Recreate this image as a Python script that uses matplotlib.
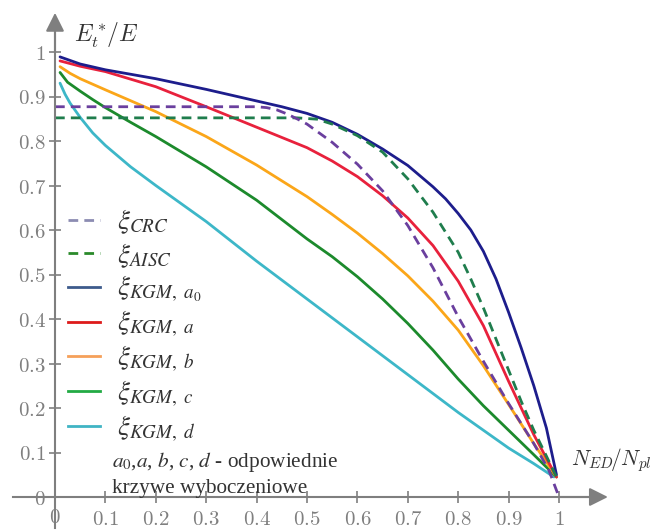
import matplotlib
matplotlib.use("Agg")
import matplotlib.pyplot as plt
from matplotlib.lines import Line2D

# ---- data ----
x_crc = [0.0, 0.1, 0.2, 0.3, 0.4, 0.42, 0.44, 0.46, 0.48, 0.5, 0.55, 0.6, 0.65, 0.7, 0.75, 0.8, 0.85, 0.9, 0.95, 0.98, 1.0]
y_crc = [0.877, 0.877, 0.877, 0.877, 0.877, 0.875, 0.87, 0.861, 0.85, 0.838, 0.797, 0.748, 0.688, 0.61, 0.515, 0.405, 0.305, 0.21, 0.12, 0.06, 0.0]

x_aisc = [0.0, 0.1, 0.2, 0.3, 0.4, 0.48, 0.52, 0.55, 0.6, 0.65, 0.7, 0.75, 0.8, 0.825, 0.85, 0.875, 0.9, 0.925, 0.95, 0.975, 0.995]
y_aisc = [0.852, 0.852, 0.852, 0.852, 0.852, 0.852, 0.849, 0.838, 0.812, 0.775, 0.715, 0.64, 0.55, 0.49, 0.425, 0.355, 0.285, 0.215, 0.15, 0.092, 0.045]

x_a0 = [0.01, 0.05, 0.1, 0.2, 0.3, 0.4, 0.45, 0.5, 0.55, 0.6, 0.65, 0.7, 0.75, 0.775, 0.8, 0.825, 0.85, 0.875, 0.9, 0.925, 0.95, 0.975, 0.995]
y_a0 = [0.989, 0.973, 0.96, 0.94, 0.916, 0.89, 0.877, 0.862, 0.842, 0.815, 0.782, 0.745, 0.697, 0.67, 0.637, 0.6, 0.552, 0.49, 0.415, 0.335, 0.25, 0.155, 0.05]

x_a = [0.01, 0.05, 0.1, 0.2, 0.3, 0.4, 0.5, 0.55, 0.6, 0.65, 0.7, 0.75, 0.8, 0.85, 0.9, 0.95, 0.995]
y_a = [0.98, 0.968, 0.956, 0.922, 0.877, 0.831, 0.785, 0.755, 0.72, 0.677, 0.627, 0.565, 0.485, 0.385, 0.26, 0.14, 0.045]

x_b = [0.01, 0.03, 0.05, 0.1, 0.2, 0.3, 0.4, 0.5, 0.55, 0.6, 0.65, 0.7, 0.75, 0.8, 0.85, 0.9, 0.95, 0.995]
y_b = [0.967, 0.952, 0.94, 0.915, 0.866, 0.81, 0.746, 0.675, 0.635, 0.593, 0.547, 0.497, 0.44, 0.375, 0.295, 0.208, 0.12, 0.045]

x_c = [0.01, 0.025, 0.05, 0.075, 0.1, 0.15, 0.2, 0.3, 0.4, 0.5, 0.55, 0.6, 0.65, 0.7, 0.75, 0.8, 0.85, 0.9, 0.95, 0.995]
y_c = [0.954, 0.932, 0.912, 0.893, 0.875, 0.842, 0.81, 0.742, 0.667, 0.58, 0.54, 0.495, 0.445, 0.39, 0.33, 0.265, 0.205, 0.15, 0.095, 0.045]

x_d = [0.01, 0.02, 0.03, 0.05, 0.075, 0.1, 0.15, 0.2, 0.3, 0.4, 0.5, 0.6, 0.7, 0.8, 0.9, 0.95, 0.99]
y_d = [0.93, 0.905, 0.885, 0.853, 0.818, 0.79, 0.742, 0.7, 0.619, 0.53, 0.445, 0.36, 0.275, 0.19, 0.11, 0.075, 0.045]

x_ticks = [0.1, 0.2, 0.3, 0.4, 0.5, 0.6, 0.7, 0.8, 0.9, 1.0]
x_ticklabels = ["0.1", "0.2", "0.3", "0.4", "0.5", "0.6", "0.7", "0.8", "0.9", "1"]
y_ticks = [0.0, 0.1, 0.2, 0.3, 0.4, 0.5, 0.6, 0.7, 0.8, 0.9, 1.0]
y_ticklabels = ["0", "0.1", "0.2", "0.3", "0.4", "0.5", "0.6", "0.7", "0.8", "0.9", "1"]

legend_labels = [r"$\xi_{CRC}$", r"$\xi_{AISC}$", r"$\xi_{KGM,\ a_0}$", r"$\xi_{KGM,\ a}$",
                 r"$\xi_{KGM,\ b}$", r"$\xi_{KGM,\ c}$", r"$\xi_{KGM,\ d}$"]

# ---- figure ----
W, H = 658, 531
fig = plt.figure(figsize=(W / 100, H / 100), dpi=100)
x0, x1 = -0.1, 1.15
y0, y1 = -0.07, 1.1
px_per_x, px_per_y = 504, 445
left_px = 55 + x0 * px_per_x
bottom_px = (531 - 497) + y0 * px_per_y
ax = fig.add_axes([left_px / W, bottom_px / H, (x1 - x0) * px_per_x / W, (y1 - y0) * px_per_y / H])
ax.set_xlim(x0, x1)
ax.set_ylim(y0, y1)

gray = "#7f7f7f"
for s in ["top", "right"]:
    ax.spines[s].set_visible(False)
ax.spines["left"].set_position(("data", 0))
ax.spines["bottom"].set_position(("data", 0))
ax.spines["left"].set_bounds(y0, 1.06)
ax.spines["bottom"].set_bounds(-0.083, 1.07)
for s in ["left", "bottom"]:
    ax.spines[s].set_color(gray)
    ax.spines[s].set_linewidth(1.5)

ax.annotate("", xy=(1.097, 0), xytext=(1.0, 0),
            arrowprops=dict(arrowstyle="-|>", color=gray, lw=1.5, mutation_scale=28, shrinkA=0, shrinkB=0))
ax.annotate("", xy=(0, 1.088), xytext=(0, 1.0),
            arrowprops=dict(arrowstyle="-|>", color=gray, lw=1.5, mutation_scale=28, shrinkA=0, shrinkB=0))

ax.set_xticks(x_ticks)
ax.set_xticklabels(["$" + t + "$" for t in x_ticklabels])
ax.set_yticks(y_ticks)
ax.set_yticklabels(["$" + t + "$" for t in y_ticklabels])
ax.tick_params(direction="inout", length=9, width=1.2, color=gray, labelcolor=gray, labelsize=15)
ax.tick_params(axis="x", pad=4)
ax.tick_params(axis="y", pad=2)
for lab in ax.get_xticklabels() + ax.get_yticklabels():
    lab.set_math_fontfamily("cm")
# x label "0" at origin
ax.text(0, -0.045, "$0$", ha="center", va="center", fontsize=15, color=gray, math_fontfamily="cm")

lw = 2.0
ax.plot(x_d, y_d, color="#3db7c8", lw=lw, solid_capstyle="round", solid_joinstyle="round")
ax.plot(x_c, y_c, color="#1c8a2c", lw=lw, solid_capstyle="round", solid_joinstyle="round")
ax.plot(x_b, y_b, color="#fba619", lw=lw, solid_capstyle="round", solid_joinstyle="round")
ax.plot(x_a, y_a, color="#e8213c", lw=lw, solid_capstyle="round", solid_joinstyle="round")
ax.plot(x_a0, y_a0, color="#1d1d8c", lw=lw, solid_capstyle="round", solid_joinstyle="round")
ax.plot(x_aisc, y_aisc, color="#1f7d4d", lw=lw, ls=(0, (3.5, 2.2)))
ax.plot(x_crc, y_crc, color="#6a3f9e", lw=lw, ls=(0, (3.5, 2.2)))

handles = [
    Line2D([], [], color="#8c8cb2", lw=2, ls=(0, (3.5, 2.2))),
    Line2D([], [], color="#2a8a2a", lw=2, ls=(0, (3.5, 2.2))),
    Line2D([], [], color="#3d5b8c", lw=2),
    Line2D([], [], color="#dd1a1a", lw=2),
    Line2D([], [], color="#f5a05a", lw=2),
    Line2D([], [], color="#22aa44", lw=2),
    Line2D([], [], color="#40b4c4", lw=2),
]
leg = ax.legend(handles, legend_labels, loc="upper left", bbox_to_anchor=(0.1, 0.615),
                frameon=False, fontsize=19.5, handlelength=1.18, handletextpad=0.65,
                labelspacing=0.17, borderaxespad=0, borderpad=0)
for t in leg.get_texts():
    t.set_math_fontfamily("stix")
    t.set_color("#333333")

ax.text(0.113, 0.079, r"$a_0$,$a$, $b$, $c$, $d$ - odpowiednie", ha="left", va="center",
        fontsize=15.3, family="Liberation Serif", math_fontfamily="stix", color="#333333")
ax.text(0.113, 0.02, "krzywe wyboczeniowe", ha="left", va="center",
        fontsize=15.3, family="Liberation Serif", color="#333333")

ax.text(0.037, 1.038, r"$E_t^*\!/E$", ha="left", va="center", fontsize=17,
        math_fontfamily="cm", color="#333333")
ax.text(1.024, 0.083, r"$N_{ED}\!/N_{pl}$", ha="left", va="center", fontsize=15.5,
        math_fontfamily="cm", color="#333333")

fig.savefig("out.png", dpi=100)
